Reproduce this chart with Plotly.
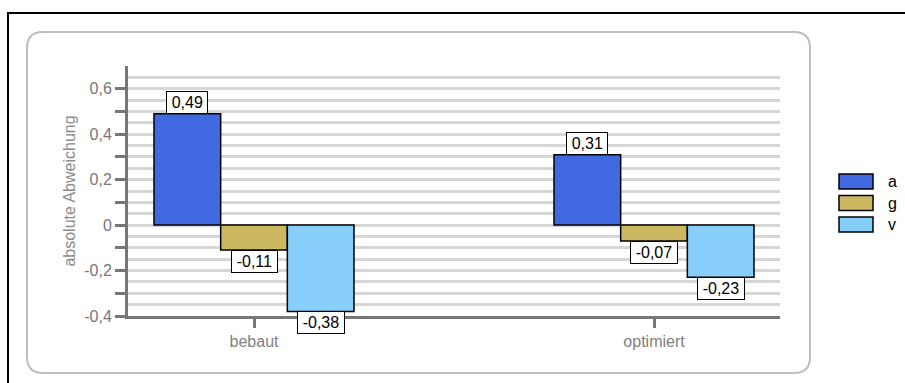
import plotly.graph_objects as go

categories = ["bebaut", "optimiert"]
series_names = ["a", "g", "v"]
values_a = [0.49, 0.31]
values_g = [-0.11, -0.07]
values_v = [-0.38, -0.23]
series_values = [values_a, values_g, values_v]
colors = ["#4169E1", "#CDB862", "#87CEFA"]
y_tickvals = [-0.4, -0.3, -0.2, -0.1, 0.0, 0.1, 0.2, 0.3, 0.4, 0.5, 0.6]
y_ticktext = ["-0,4", "", "-0,2", "", "0", "", "0,2", "", "0,4", "", "0,6"]

W, H = 905, 383
L, R, T, B = 128, 780, 66, 316  # plot area in pixels
FONT = "Liberation Sans, Arial, sans-serif"
SP = "\u2006"

def px_x(p):
    return (p - L) / (R - L)

def px_y(p):
    return (B - p) / (B - T)

bar_w = 1 / 6
offsets = [-bar_w, 0, bar_w]
xpos = list(range(len(categories)))

fig = go.Figure()
annotations = []
shapes = []
for name, vals, col, off in zip(series_names, series_values, colors, offsets):
    xs = [x + off for x in xpos]
    fig.add_trace(go.Bar(
        x=xs, y=vals, width=bar_w, name=name, showlegend=False,
        marker=dict(color=col, line=dict(color="black", width=1.5)),
    ))
    for x, v in zip(xs, vals):
        annotations.append(dict(
            x=x, y=v, xref="x", yref="y",
            text=SP + f"{v:.2f}".replace(".", ",") + SP,
            showarrow=False,
            yanchor="bottom" if v >= 0 else "top",
            font=dict(family=FONT, size=16, color="black"),
            bgcolor="white", bordercolor="black", borderwidth=1, borderpad=2,
        ))

# legend (swatches + labels), laid out in a column
leg_x0, leg_y0, sw_w, sw_h, leg_step = 839, 174, 34, 15, 21.5
for i, (name, col) in enumerate(zip(series_names, colors)):
    yt = leg_y0 + i * leg_step
    shapes.append(dict(type="rect", xref="paper", yref="paper",
                       x0=px_x(leg_x0), x1=px_x(leg_x0 + sw_w),
                       y0=px_y(yt), y1=px_y(yt + sw_h),
                       line=dict(color="black", width=1.5), fillcolor=col))
    annotations.append(dict(x=px_x(leg_x0 + sw_w + 13), y=px_y(yt + sw_h / 2),
                            xref="paper", yref="paper", text=name, showarrow=False,
                            xanchor="left", yanchor="middle",
                            font=dict(family=FONT, size=16, color="black")))

# rounded grey frame
x0, y0, x1, y1, r = 27, 32, 810, 373, 16
path = (
    f"M {px_x(x0 + r)},{px_y(y0)} L {px_x(x1 - r)},{px_y(y0)} "
    f"Q {px_x(x1)},{px_y(y0)} {px_x(x1)},{px_y(y0 + r)} "
    f"L {px_x(x1)},{px_y(y1 - r)} Q {px_x(x1)},{px_y(y1)} {px_x(x1 - r)},{px_y(y1)} "
    f"L {px_x(x0 + r)},{px_y(y1)} Q {px_x(x0)},{px_y(y1)} {px_x(x0)},{px_y(y1 - r)} "
    f"L {px_x(x0)},{px_y(y0 + r)} Q {px_x(x0)},{px_y(y0)} {px_x(x0 + r)},{px_y(y0)} Z"
)
shapes += [
    dict(type="path", xref="paper", yref="paper", path=path,
         line=dict(color="#bdbdbd", width=2), fillcolor="rgba(0,0,0,0)", layer="below"),
    dict(type="rect", xref="paper", yref="paper",
         x0=px_x(8), y0=px_y(13), x1=px_x(W + 10), y1=px_y(H + 10),
         line=dict(color="black", width=2), fillcolor="rgba(0,0,0,0)", layer="below"),
]

fig.update_layout(
    width=W, height=H,
    margin=dict(l=L, r=W - R, t=T, b=H - B, pad=0),
    paper_bgcolor="white", plot_bgcolor="white",
    separators=", ",
    barmode="overlay",
    font=dict(family=FONT, size=16, color="#777777"),
    showlegend=False,
    annotations=annotations,
    shapes=shapes,
    xaxis=dict(
        range=[-0.315, 1.315], tickmode="array", tickvals=xpos, ticktext=categories,
        showline=True, linecolor="#777777", linewidth=3,
        ticks="outside", ticklen=9, tickwidth=3, tickcolor="#777777",
        showgrid=False, zeroline=False,
        tickfont=dict(family=FONT, size=16, color="#808080"),
    ),
    yaxis=dict(
        range=[-0.4, 0.7], tickmode="array", tickvals=y_tickvals, ticktext=y_ticktext,
        showline=True, linecolor="#777777", linewidth=3,
        ticks="outside", ticklen=10, tickwidth=3, tickcolor="#777777",
        showgrid=True, gridcolor="#d6d6d6", gridwidth=3, zeroline=False,
        minor=dict(dtick=0.05, tick0=0, showgrid=True, gridcolor="#d6d6d6", gridwidth=3, ticks=""),
        tickfont=dict(family=FONT, size=16, color="#777777"),
        title=dict(text="absolute Abweichung", font=dict(family=FONT, size=16, color="#8a8a8a"), standoff=5),
    ),
)

fig.write_html("out.html")
